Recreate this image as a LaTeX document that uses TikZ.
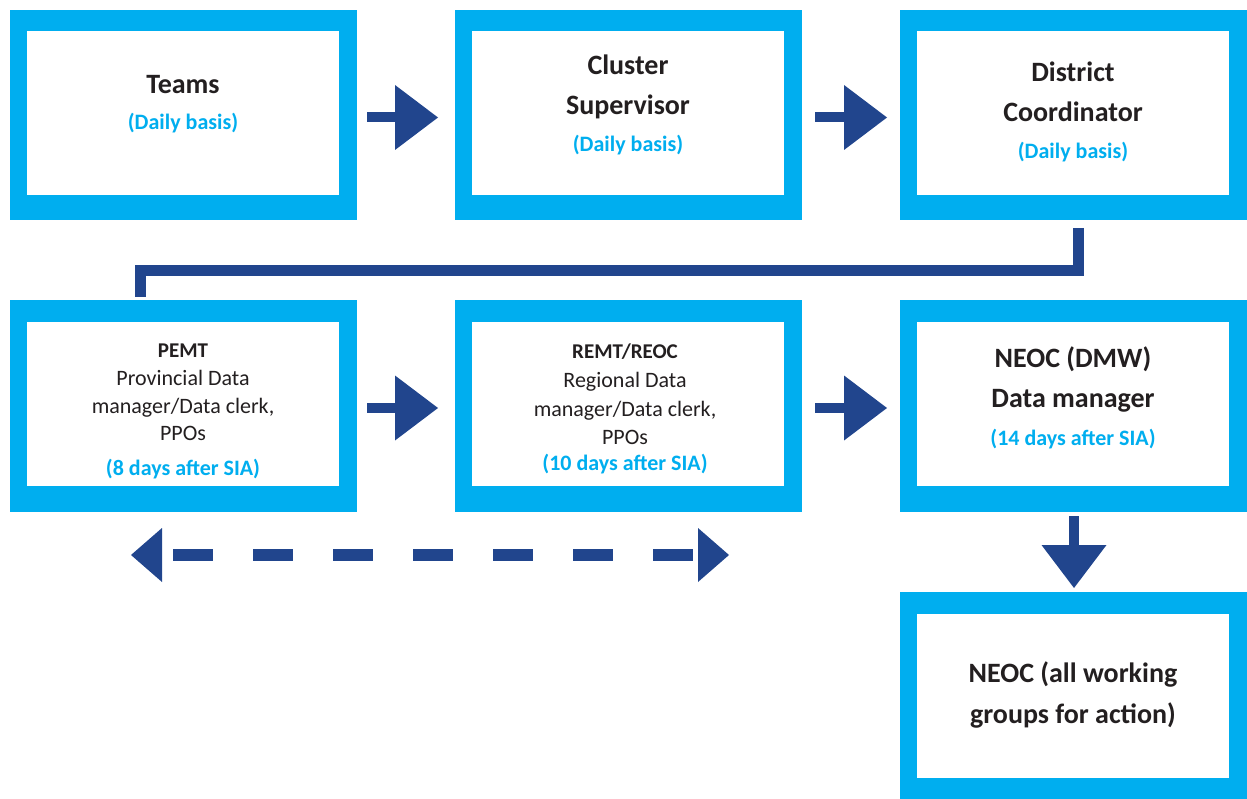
\documentclass[tikz,border=0pt]{standalone}
\usepackage{fontspec}
\setmainfont{Carlito}
\usetikzlibrary{arrows.meta,calc}
\definecolor{framecyan}{HTML}{00AEEF}
\definecolor{navy}{HTML}{21458D}
\definecolor{ink}{HTML}{231F20}
\begin{document}
\begin{tikzpicture}[x=1pt,y=-1pt,
  outerbox/.style={fill=framecyan, inner sep=0pt, outer sep=0pt, minimum width=347pt, minimum height=210pt},
  innerbox/.style={fill=white, inner sep=0pt, outer sep=0pt, minimum width=312pt, minimum height=164pt},
  bigtext/.style={anchor=base, inner sep=0pt, text=ink, font=\fontsize{28}{32}\selectfont\bfseries},
  smalltext/.style={anchor=base, inner sep=0pt, text=ink, font=\fontsize{22}{26}\selectfont},
  headtext/.style={anchor=base, inner sep=0pt, text=ink, font=\fontsize{21}{25}\selectfont\bfseries},
  whentext/.style={anchor=base, inner sep=0pt, text=framecyan, font=\fontsize{22}{26}\selectfont\bfseries},
  blockarrow/.style={draw=navy, line width=10pt, -{Triangle[length=43pt,width=65pt,line width=0pt]}},
  linkline/.style={draw=navy, line width=11pt, line join=miter},
  twoway/.style={draw=navy, line width=12pt, dash pattern=on 40pt off 40pt, dash phase=69pt,
    {Triangle[length=31pt,width=54pt,line width=0pt]}-{Triangle[length=31pt,width=54pt,line width=0pt]}}
]
\useasboundingbox (0,0) rectangle (1247,799);

% top row
\node[outerbox] (b1) at (183.5,115) {};
\node[innerbox] (w1) at (183,113) {};
\node[outerbox] (b2) at (628.5,115) {};
\node[innerbox] (w2) at (628,113) {};
\node[outerbox] (b3) at (1073.5,115) {};
\node[innerbox] (w3) at (1073,113) {};

% middle row
\node[outerbox, minimum height=212pt] (b4) at (183.5,406) {};
\node[innerbox] (w4) at (183,404) {};
\node[outerbox, minimum height=212pt] (b5) at (628.5,406) {};
\node[innerbox] (w5) at (628,404) {};
\node[outerbox, minimum height=212pt] (b6) at (1073.5,406) {};
\node[innerbox] (w6) at (1073,404) {};

% bottom box
\node[outerbox, minimum height=207pt] (b7) at (1073.5,695.5) {};
\node[innerbox] (w7) at (1073,696) {};

% texts
\node[bigtext] (t1a) at (183,94) {Teams};
\node[whentext] (t1b) at (183,130) {(Daily basis)};

\node[bigtext] (t2a) at (628,75) {Cluster};
\node[bigtext] (t2b) at (628,115) {Supervisor};
\node[whentext] (t2c) at (628,152) {(Daily basis)};

\node[bigtext] (t3a) at (1073,82) {District};
\node[bigtext] (t3b) at (1073,122) {Coordinator};
\node[whentext] (t3c) at (1073,159) {(Daily basis)};

\node[headtext] (t4a) at (183,357) {PEMT};
\node[smalltext] (t4b) at (183,385) {Provincial Data};
\node[smalltext] (t4c) at (183,413) {manager/Data clerk,};
\node[smalltext] (t4d) at (183,440) {PPOs};
\node[whentext] (t4e) at (183,475) {(8 days after SIA)};

\node[headtext] (t5a) at (625,359) {REMT/REOC};
\node[smalltext] (t5b) at (625,387) {Regional Data};
\node[smalltext] (t5c) at (625,416) {manager/Data clerk,};
\node[smalltext] (t5d) at (625,444) {PPOs};
\node[whentext] (t5e) at (625,470) {(10 days after SIA)};

\node[bigtext] (t6a) at (1073,367) {NEOC (DMW)};
\node[bigtext] (t6b) at (1073,407) {Data manager};
\node[whentext] (t6c) at (1073,445) {(14 days after SIA)};

\node[bigtext] (t7a) at (1073,682) {NEOC (all working};
\node[bigtext] (t7b) at (1073,723) {groups for action)};

% flow arrows
\draw[blockarrow] ($(b1.east)+(10,2.5)$) -- ($(b2.west)+(-17,2.5)$);
\draw[blockarrow] ($(b2.east)+(13,2.5)$) -- ($(b3.west)+(-13,2.5)$);
\draw[blockarrow] ($(b4.east)+(10,2)$) -- ($(b5.west)+(-17,2)$);
\draw[blockarrow] ($(b5.east)+(13,2)$) -- ($(b6.west)+(-13,2)$);
\draw[blockarrow] ($(b6.south)+(0.5,4)$) -- ($(b7.north)+(0.5,-4)$);

% elbow link from the district box down to the provincial box
\draw[linkline] ($(b3.south)+(5,8)$) -- ++(0,42.5) -| ($(b4.north)+(-43,-3)$);

% two-way exchange between provincial and regional levels
\coordinate (dl) at (131,555);
\coordinate (dr) at (729,555);
\draw[twoway] (dl) -- (dr);
\end{tikzpicture}
\end{document}
